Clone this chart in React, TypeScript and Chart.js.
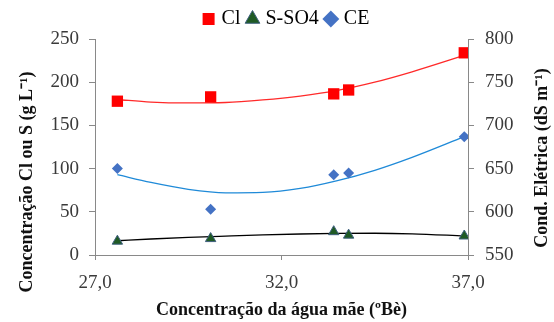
import React, { useEffect, useRef } from "react";
import { Chart, registerables } from "chart.js";

Chart.register(...registerables);

const xValues = [27.6, 30.1, 33.4, 33.8, 36.9];
const clValues = [178, 183, 186.5, 191, 234];
const sValues = [16, 19, 27, 23, 22];
const ceValues = [650, 603, 643, 645, 687];

const trendX = [27.6, 28.5, 29.5, 30.5, 31.5, 32.5, 33.5, 34.5, 35.5, 36.9];
const clTrend = [180, 177, 176, 176.5, 179.5, 184, 190.5, 200, 212, 231];
const sTrend = [16.5, 18.5, 20.3, 21.8, 23.2, 24.3, 25, 25.2, 24.5, 22];
const ceTrend = [643, 634, 626, 622, 622.5, 627, 636, 648, 663, 687];

const xTickValues = [27, 32, 37];
const xTickLabels = ["27,0", "32,0", "37,0"];
const seriesNames = ["Cl", "S-SO4", "CE"];
const xTitle = "Concentração da água mãe (ºBè)";
const leftTitle = "Concentração Cl ou S (g L⁻¹)";
const rightTitle = "Cond. Elétrica (dS m⁻¹)";

const SERIF = '"Liberation Serif", "Times New Roman", serif';
const AXIS = "#898989";
const TICK = "#3a3a3a";

const pts = (xs: number[], ys: number[]) => xs.map((x, i) => ({ x, y: ys[i] }));

const titlesPlugin = {
  id: "yTitles",
  afterDraw(chart: any) {
    const { ctx } = chart;
    ctx.save();
    ctx.font = `bold 18px ${SERIF}`;
    ctx.fillStyle = "#111";
    ctx.textAlign = "center";
    ctx.textBaseline = "middle";
    ctx.save();
    ctx.translate(27, 182);
    ctx.rotate(-Math.PI / 2);
    ctx.fillText(leftTitle, 0, 0);
    ctx.restore();
    ctx.save();
    ctx.translate(542, 158);
    ctx.rotate(-Math.PI / 2);
    ctx.fillText(rightTitle, 0, 0);
    ctx.restore();
    ctx.restore();
  },
};

export default function App() {
  const ref = useRef<HTMLCanvasElement>(null);
  useEffect(() => {
    document.body.style.margin = "0";
    const canvas = ref.current!;
    const chart = new Chart(canvas, {
      type: "scatter",
      data: {
        datasets: [
          {
            label: seriesNames[0],
            data: pts(xValues, clValues),
            yAxisID: "y",
            pointStyle: "rect",
            pointRadius: 8,
            backgroundColor: "#FF0000",
            borderColor: "#FF0000",
            borderWidth: 0,
            order: 1,
          },
          {
            label: seriesNames[1],
            data: pts(xValues, sValues),
            yAxisID: "y",
            pointStyle: "triangle",
            pointRadius: 6,
            backgroundColor: "#1F5A24",
            borderColor: "#3E5F7E",
            borderWidth: 1,
            order: 1,
          },
          {
            label: seriesNames[2],
            data: pts(xValues, ceValues),
            yAxisID: "y2",
            pointStyle: "rectRot",
            pointRadius: 5.5,
            backgroundColor: "#4472C4",
            borderColor: "#4472C4",
            borderWidth: 0,
            order: 1,
          },
          {
            label: "trendCl",
            data: pts(trendX, clTrend),
            yAxisID: "y",
            showLine: true,
            pointRadius: 0,
            borderColor: "#FF2A2A",
            borderWidth: 1.3,
            cubicInterpolationMode: "monotone",
            order: 2,
          },
          {
            label: "trendS",
            data: pts(trendX, sTrend),
            yAxisID: "y",
            showLine: true,
            pointRadius: 0,
            borderColor: "#000000",
            borderWidth: 1.3,
            cubicInterpolationMode: "monotone",
            order: 2,
          },
          {
            label: "trendCE",
            data: pts(trendX, ceTrend),
            yAxisID: "y2",
            showLine: true,
            pointRadius: 0,
            borderColor: "#1F8AD8",
            borderWidth: 1.3,
            cubicInterpolationMode: "monotone",
            order: 2,
          },
        ],
      },
      options: {
        animation: false,
        responsive: false,
        devicePixelRatio: 1,
        layout: { padding: { top: 0, right: 0, left: 21, bottom: 0 } },
        plugins: {
          tooltip: { enabled: false },
          legend: {
            display: true,
            position: "top",
            labels: {
              usePointStyle: true,
              boxWidth: 6,
              boxHeight: 12,
              padding: 9,
              color: "#000",
              font: { family: SERIF, size: 20 },
              filter: (item: any) => seriesNames.includes(item.text),
            },
          },
        },
        scales: {
          x: {
            type: "linear",
            min: 27,
            max: 37,
            afterBuildTicks: (s: any) => {
              s.ticks = xTickValues.map((v) => ({ value: v }));
            },
            afterFit: (s: any) => {
              s.height = 67;
            },
            ticks: {
              color: TICK,
              font: { family: SERIF, size: 19 },
              padding: 12,
              maxRotation: 0,
              callback: (v: any) => xTickLabels[xTickValues.indexOf(Number(v))],
            },
            grid: { drawOnChartArea: false, drawTicks: true, tickLength: 5, color: AXIS },
            border: { color: AXIS, width: 1 },
            title: {
              display: true,
              text: xTitle,
              color: "#111",
              font: { family: SERIF, size: 18, weight: "bold" },
              padding: { top: 0, bottom: 1 },
            },
          },
          y: {
            position: "left",
            min: 0,
            max: 250,
            afterFit: (s: any) => {
              s.width = 74;
            },
            ticks: {
              stepSize: 50,
              color: TICK,
              font: { family: SERIF, size: 19 },
              padding: 10,
            },
            grid: { drawOnChartArea: false, drawTicks: true, tickLength: 6, color: AXIS },
            border: { color: AXIS, width: 1 },
          },
          y2: {
            position: "right",
            min: 550,
            max: 800,
            afterFit: (s: any) => {
              s.width = 86;
            },
            ticks: {
              stepSize: 50,
              color: TICK,
              font: { family: SERIF, size: 19 },
              padding: 11,
            },
            grid: { drawOnChartArea: false, drawTicks: true, tickLength: 6, color: AXIS },
            border: { color: AXIS, width: 1 },
          },
        },
      },
      plugins: [titlesPlugin],
    });
    return () => chart.destroy();
  }, []);
  return (
    <div style={{ width: 554, height: 322, background: "#fff" }}>
      <canvas ref={ref} width={554} height={322} />
    </div>
  );
}
